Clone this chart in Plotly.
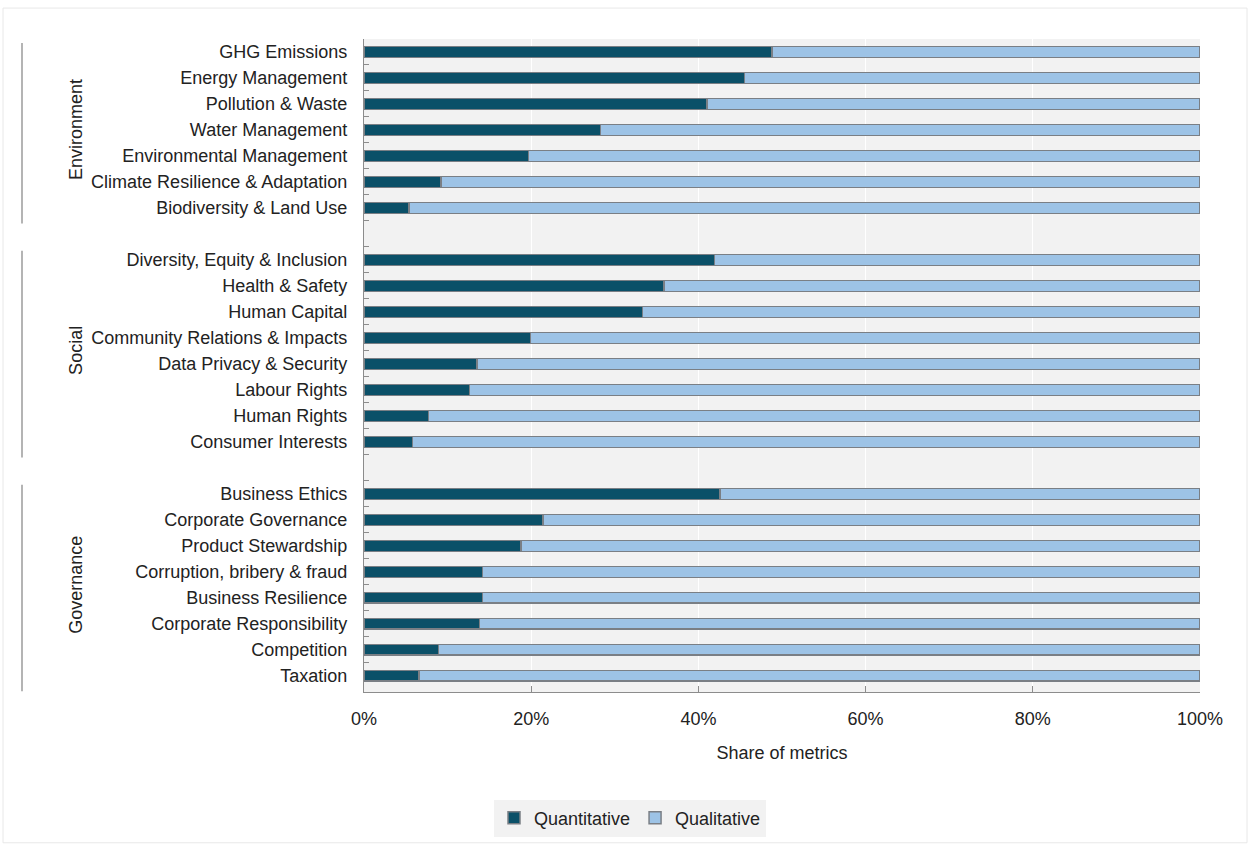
import plotly.graph_objects as go

# Metric topics, top to bottom; blank entries separate the three pillars
topics = [
    "GHG Emissions", "Energy Management", "Pollution & Waste", "Water Management",
    "Environmental Management", "Climate Resilience & Adaptation", "Biodiversity & Land Use",
    " ",
    "Diversity, Equity & Inclusion", "Health & Safety", "Human Capital",
    "Community Relations & Impacts", "Data Privacy & Security", "Labour Rights",
    "Human Rights", "Consumer Interests",
    "  ",
    "Business Ethics", "Corporate Governance", "Product Stewardship",
    "Corruption, bribery & fraud", "Business Resilience", "Corporate Responsibility",
    "Competition", "Taxation",
]

# Share of metrics (%) per topic
quantitative = [
    48.8, 45.5, 41.0, 28.3, 19.7, 9.2, 5.4,
    None,
    41.9, 35.9, 33.3, 19.9, 13.5, 12.6, 7.7, 5.8,
    None,
    42.6, 21.4, 18.8, 14.2, 14.2, 13.8, 8.9, 6.6,
]
qualitative = [
    51.2, 54.5, 59.0, 71.7, 80.3, 90.8, 94.6,
    None,
    58.1, 64.1, 66.7, 80.1, 86.5, 87.4, 92.3, 94.2,
    None,
    57.4, 78.6, 81.2, 85.8, 85.8, 86.2, 91.1, 93.4,
]

# Pillar names with first/last row index of each group
pillars = [("Environment", 0, 6), ("Social", 8, 15), ("Governance", 17, 24)]
x_ticks = [0, 20, 40, 60, 80, 100]
x_tick_labels = ["0%", "20%", "40%", "60%", "80%", "100%"]

DARK = "#0b5068"
LIGHT = "#9dc3e6"
EDGE = "#7a7f85"
FONT = "Liberation Sans, Arial, sans-serif"

fig = go.Figure()
fig.add_trace(go.Bar(
    y=topics, x=quantitative, orientation="h", name="Quantitative",
    marker=dict(color=DARK, line=dict(color=EDGE, width=1.5)),
))
fig.add_trace(go.Bar(
    y=topics, x=qualitative, orientation="h", name="Qualitative",
    marker=dict(color=LIGHT, line=dict(color=EDGE, width=1.5)),
))

W, H = 1250, 847
L, R, T, B = 364, 50, 39, 154
pw, ph = W - L - R, H - T - B


def px_x(p):
    return (p - L) / pw


def px_y(p):
    return (H - B - p) / ph


# Pillar labels and vertical separator lines on the left
for name, first, last in pillars:
    fig.add_annotation(
        text=name, x=px_x(76), xref="paper", y=(first + last) / 2, yref="y",
        textangle=-90, showarrow=False, xanchor="center", yanchor="middle",
        font=dict(size=18, color="#222222", family=FONT),
    )
    fig.add_shape(
        type="line", xref="paper", yref="y",
        x0=px_x(22), x1=px_x(22), y0=first - 0.35, y1=last + 0.6,
        line=dict(color="#8c8c8c", width=1.3),
    )

# Light frame around the whole figure
fig.add_shape(
    type="rect", xref="paper", yref="paper",
    x0=px_x(3), x1=px_x(1247), y0=px_y(844), y1=px_y(8),
    line=dict(color="#e8e8e8", width=1), layer="below",
)

fig.update_layout(
    width=W, height=H,
    margin=dict(l=L, r=R, t=T, b=B),
    barmode="stack", bargap=0.58,
    plot_bgcolor="#f2f2f2", paper_bgcolor="white",
    font=dict(family=FONT, size=18, color="#222222"),
    legend=dict(
        orientation="h", x=px_x(630), y=px_y(818), xanchor="center", yanchor="middle",
        bgcolor="#f2f2f2", font=dict(size=18, color="#222222"),
        itemwidth=30, traceorder="normal",
    ),
    showlegend=True,
)
fig.update_xaxes(
    range=[0, 100], tickvals=x_ticks, ticktext=x_tick_labels,
    showgrid=True, gridcolor="#ffffff", gridwidth=1,
    showline=True, linecolor="#8c8c8c", linewidth=1.3,
    ticks="inside", ticklen=6, tickcolor="#8c8c8c",
    ticklabelstandoff=10, zeroline=False,
    title=dict(text="Share of metrics", standoff=18, font=dict(size=18)),
)
fig.update_yaxes(
    categoryorder="array", categoryarray=topics, autorange="reversed",
    showgrid=False, showline=True, linecolor="#8c8c8c", linewidth=1.3,
    ticks="inside", tickson="boundaries", ticklen=5, tickcolor="#8c8c8c",
    ticklabelstandoff=12,
)

fig.write_html("out.html")
